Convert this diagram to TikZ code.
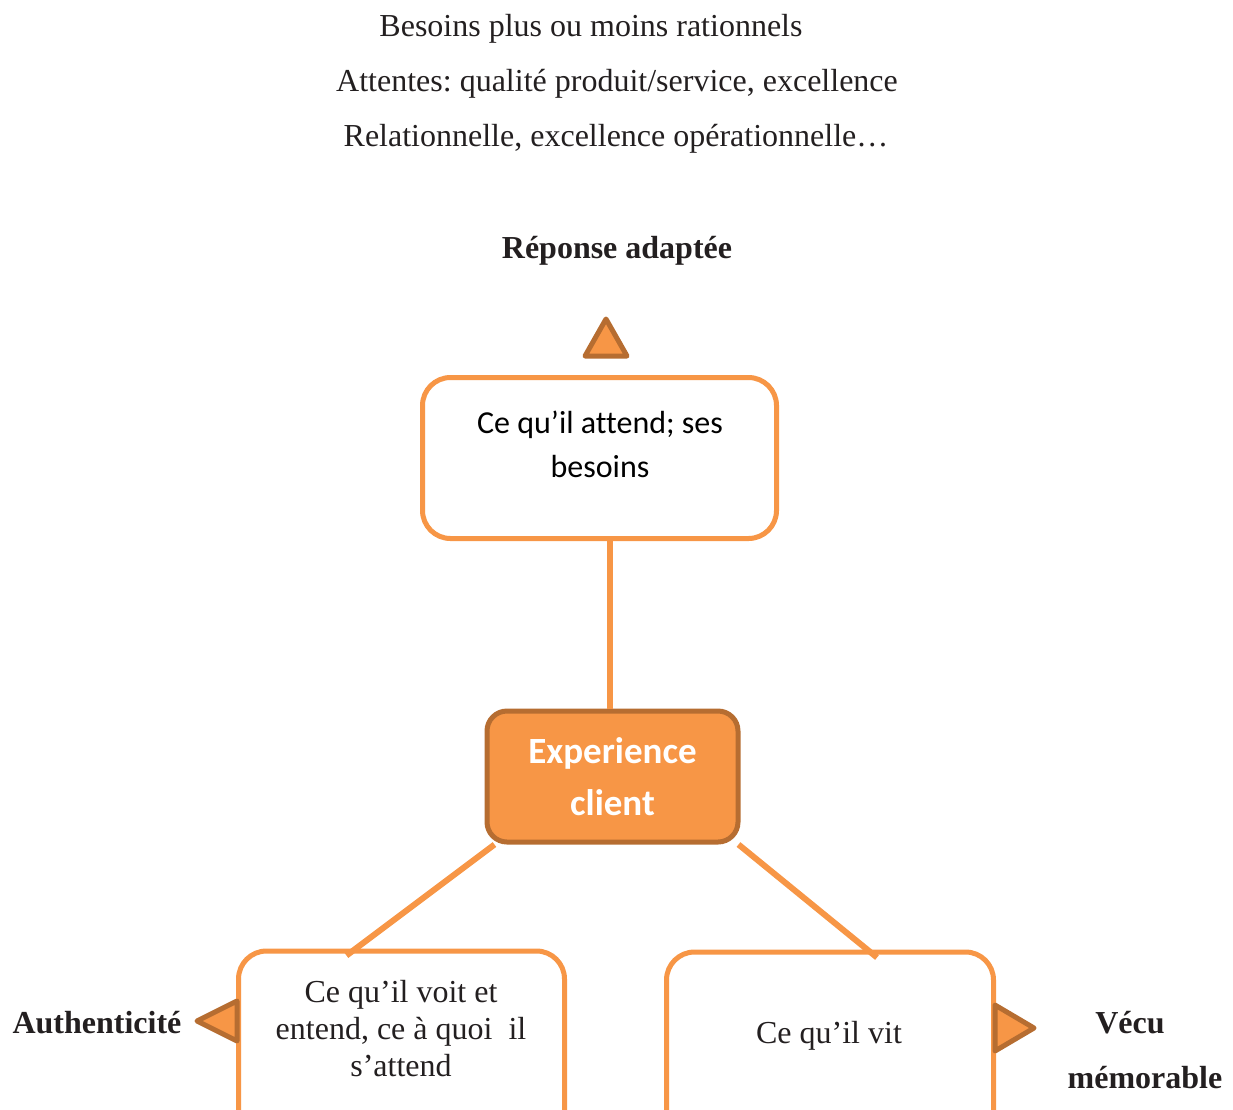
\documentclass[tikz,border=0pt]{standalone}
\usepackage{fontspec}
\setmainfont{Liberation Serif}
\newfontfamily\calibri[Ligatures=NoCommon]{Carlito}
\usetikzlibrary{positioning,calc}
\definecolor{colO}{HTML}{F79646}
\definecolor{colD}{HTML}{B66D31}
\definecolor{colT}{HTML}{231F20}
\frenchspacing

\begin{document}
\begin{tikzpicture}[x=1pt,y=-1pt,
  txt/.style={font=\fontsize{32}{37}\selectfont, text=colT, inner sep=0pt, align=center},
  lbl/.style={font=\fontsize{32}{37}\selectfont\bfseries, text=colT, inner sep=0pt},
  box/.style={draw=colO, line width=5pt, rounded corners=28pt, fill=white, inner sep=0pt},
  ctr/.style={draw=colD, fill=colO, line width=5pt, rounded corners=20pt,
    minimum width=251pt, minimum height=131pt, inner sep=0pt,
    font=\calibri\fontsize{37}{52}\selectfont\bfseries, text=white, align=center},
  tri/.style={draw=colD, fill=colO, line width=5pt, line join=round},
  ln/.style={colO, line width=6pt}
]
\useasboundingbox (0,0) rectangle (1233,1109);
\clip (0,0) rectangle (1233,1109);

% Top texts
\node[txt] (b1) at (591,29) {Besoins plus ou moins rationnels};
\node[txt] (b2) at (617,84) {Attentes: qualité produit/service, excellence};
\node[txt] (b3) at (616,139) {Relationnelle, excellence opérationnelle…};
\node[lbl] (rep) at (617,251) {Réponse adaptée};

% Boxes
\node[box, minimum width=354pt, minimum height=161pt] (att) at (599.5,458) {};
\node[font=\calibri\fontsize{32}{44}\selectfont, align=center, inner sep=0pt]
  (att-t) at (600,444) {Ce qu’il attend; ses\\besoins};
\node[ctr] (exp) at (612.5,776.5) {Experience\\client};
\node[box, minimum width=326pt, minimum height=190pt] (voit) at (401.5,1046) {};
\node[txt] (voit-t) at (401,1029)
  {Ce qu’il voit et\\entend, ce à quoi\ \ il\\s’attend};
\node[box, minimum width=327pt, minimum height=190pt] (vit) at (830,1047) {};
\node[txt] (vit-t) at (829,1036) {Ce qu’il vit};

% Side labels
\node[lbl] (auth) at (97,1023) {Authenticité};
\node[lbl] (vec) at (1130,1023) {Vécu};
\node[lbl] (mem) at (1145,1078) {mémorable};

% Triangles
\draw[tri] (585,356) -- (606,319) -- (627,356) -- cycle;
\draw[tri] (237,1001) -- (197,1021) -- (237,1041) -- cycle;
\draw[tri] (995,1005) -- (1034,1028) -- (995,1051) -- cycle;

% Connectors
\draw[ln] (att.south) ++(10pt,0) coordinate (a1) (a1) -- (a1 |- exp.north);
\draw[ln] ([xshift=10pt]exp.south west) -- ([xshift=-55pt,yshift=-7pt]voit.north);
\draw[ln] ([xshift=-2pt]exp.south east) -- ([xshift=47pt,yshift=-8pt]vit.north);
\end{tikzpicture}
\end{document}
